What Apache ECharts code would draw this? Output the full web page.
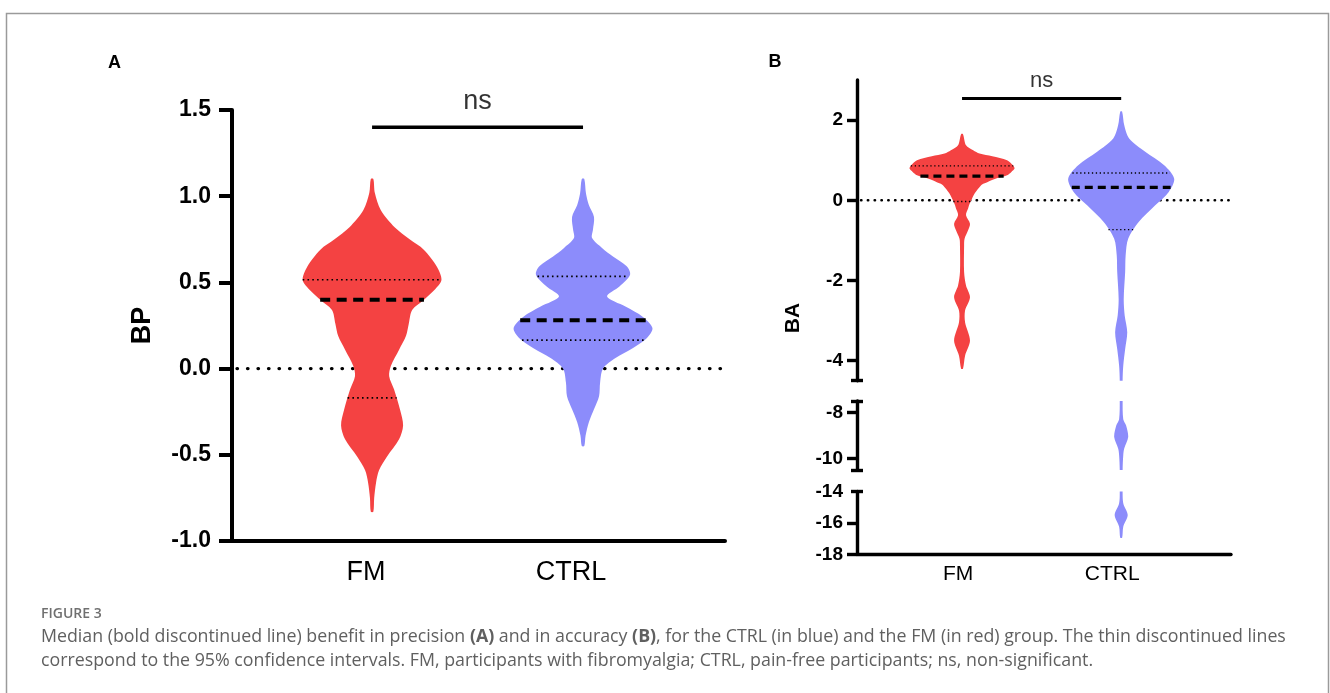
<!DOCTYPE html>
<html><head><meta charset="utf-8">
<script src="https://cdn.jsdelivr.net/npm/echarts@6/dist/echarts.min.js"></script>
<style>html,body{margin:0;padding:0;background:#fff}#c{width:1330px;height:693px}</style>
</head><body><div id="c"></div>
<script>
// ---------------- DATA ----------------
const groups = ['FM', 'CTRL'];
const groupColors = ['#F44242', '#8C8CFB'];

// Panel A: BP (precision benefit). Profiles: [value, half-width in category units]
const bpTickLabels = [-1.0, -0.5, 0.0, 0.5, 1.0, 1.5];
const bpProfileFM = [
  [1.10, 0.006], [1.02, 0.013], [0.92, 0.041], [0.82, 0.107], [0.75, 0.178],
  [0.69, 0.245], [0.59, 0.308], [0.515, 0.329], [0.46, 0.299], [0.40, 0.246],
  [0.34, 0.190], [0.26, 0.174], [0.19, 0.161], [0.11, 0.128], [0.015, 0.089],
  [-0.044, 0.081], [-0.12, 0.104], [-0.24, 0.133], [-0.33, 0.147], [-0.41, 0.128],
  [-0.51, 0.071], [-0.59, 0.033], [-0.66, 0.019], [-0.75, 0.010], [-0.83, 0.006]
];
const bpProfileCTRL = [
  [1.10, 0.006], [1.016, 0.014], [0.948, 0.028], [0.88, 0.052], [0.805, 0.047],
  [0.757, 0.043], [0.70, 0.090], [0.65, 0.142], [0.593, 0.207], [0.545, 0.223],
  [0.478, 0.174], [0.418, 0.114], [0.36, 0.201], [0.30, 0.284], [0.235, 0.329],
  [0.177, 0.303], [0.119, 0.237], [0.061, 0.154], [0.0, 0.095], [-0.08, 0.081],
  [-0.16, 0.076], [-0.236, 0.052], [-0.31, 0.028], [-0.39, 0.012], [-0.449, 0.006]
];
const bpMedian = [0.40, 0.28];
const bpLowerLine = [-0.17, 0.165];
const bpUpperLine = [0.515, 0.535];
const bpSigY = 1.40;

// Panel B: BA (accuracy benefit), broken axis in three segments
const baSegments = [[-4.5, 3], [-10.5, -7.5], [-18, -14]];
const baTickLabels = [[-4, -2, 0, 2], [-10, -8], [-18, -16, -14]];
const baTickMarks = [[-4, -2, 0, 2], [-10, -8], [-18, -16]];
const baBreakCaps = [[-4.5], [-10.5, -7.5], [-14]];
const baProfileFM = [
  [1.65, 0.006], [1.375, 0.025], [1.25, 0.07], [1.167, 0.11], [1.10, 0.19],
  [1.0, 0.283], [0.875, 0.32], [0.79, 0.33], [0.708, 0.31], [0.625, 0.283],
  [0.54, 0.21], [0.417, 0.138], [0.375, 0.12], [0.167, 0.079], [0.042, 0.063],
  [-0.125, 0.044], [-0.208, 0.038], [-0.375, 0.025], [-0.583, 0.05], [-0.75, 0.038],
  [-0.96, 0.016], [-1.125, 0.013], [-1.79, 0.013], [-2.125, 0.025], [-2.417, 0.05],
  [-2.75, 0.019], [-3.04, 0.019], [-3.5, 0.05], [-3.875, 0.019], [-4.2, 0.006]
];
const baProfileCTRL = [
  [2.21, 0.006], [1.875, 0.019], [1.54, 0.05], [1.21, 0.151], [0.875, 0.27],
  [0.54, 0.333], [0.208, 0.299], [-0.125, 0.214], [-0.54, 0.11], [-0.958, 0.044],
  [-1.375, 0.028], [-1.79, 0.025], [-2.46, 0.016], [-2.875, 0.022], [-3.29, 0.038],
  [-3.71, 0.025], [-4.125, 0.013], [-4.5, 0.009], [-7.5, 0.009], [-8.29, 0.013],
  [-8.57, 0.031], [-9.07, 0.044], [-9.57, 0.019], [-9.86, 0.013], [-10.5, 0.009],
  [-13.9, 0.009], [-14.75, 0.013], [-15.5, 0.041], [-16.24, 0.013], [-16.94, 0.006]
];
const baMedian = [0.60, 0.32];
const baLowerLine = [-0.03, -0.73];
const baUpperLine = [0.86, 0.68];
const baSigY = 2.54;
const sigText = 'ns';

// ---------------- LAYOUT / HELPERS ----------------
const FONT = "'Liberation Sans', Arial, sans-serif";
const CAPFONT = "'Open Sans', 'Noto Sans', sans-serif";
const AX = { min: 0.336, max: 2.673 };
const BX = { min: 0.34, max: 2.69 };

function interpHW(profile, v) {
  for (let i = 0; i < profile.length - 1; i++) {
    const a = profile[i], b = profile[i + 1];
    if (v <= a[0] && v >= b[0]) {
      const t = (a[0] - v) / (a[0] - b[0]);
      return a[1] + t * (b[1] - a[1]);
    }
  }
  return 0;
}

function violin(profile, gi, xi, yi, stats, cfg) {
  return {
    type: 'custom', xAxisIndex: xi, yAxisIndex: yi, clip: true, z: 3, silent: true,
    data: [[gi + 1]],
    renderItem: function (params, api) {
      const cx = api.value(0);
      const pts = profile.map(p => api.coord([cx + p[1], p[0]]))
        .concat(profile.slice().reverse().map(p => api.coord([cx - p[1], p[0]])));
      const children = [{ type: 'polygon', shape: { points: pts, smooth: 0.3 }, style: { fill: groupColors[gi] } }];
      const hline = (v, style) => {
        const hw = interpHW(profile, v);
        const p1 = api.coord([cx - hw, v]), p2 = api.coord([cx + hw, v]);
        return { type: 'line', shape: { x1: p1[0], y1: p1[1], x2: p2[0], y2: p2[1] }, style: style };
      };
      const qStyle = { stroke: '#000', lineWidth: cfg.qWidth, lineDash: cfg.qDash, fill: null };
      children.push(hline(stats.upper, qStyle));
      children.push(hline(stats.lower, qStyle));
      children.push(hline(stats.median, { stroke: '#000', lineWidth: cfg.mWidth, lineDash: cfg.mDash, fill: null }));
      return { type: 'group', children: children };
    }
  };
}

const grids = [
  { left: 232, top: 110, width: 493, height: 431 },
  { left: 857, top: 80, width: 374, height: 300.7 },
  { left: 857, top: 401, width: 374, height: 69 },
  { left: 857, top: 491.5, width: 374, height: 62.8 }
];

const xAxes = [{
  gridIndex: 0, type: 'value', min: AX.min, max: AX.max,
  axisLine: { show: true, onZero: false, lineStyle: { color: '#000', width: 4 } },
  axisTick: { show: false }, splitLine: { show: false },
  axisLabel: {
    customValues: [1, 2], margin: 18, color: '#000',
    formatter: v => v === 1 ? '{a|' + groups[0] + '}' : '{b|' + groups[1] + '}',
    rich: {
      a: { fontSize: 27, fontFamily: FONT, color: '#000', padding: [0, 12, 0, 0] },
      b: { fontSize: 27, fontFamily: FONT, color: '#000', padding: [0, 24, 0, 0] }
    }
  }
}];
const yAxes = [{
  gridIndex: 0, type: 'value', position: 'left', min: -1, max: 1.5, interval: 0.5,
  axisLine: { show: true, onZero: false, lineStyle: { color: '#000', width: 4 } },
  axisTick: { show: true, length: 13, customValues: bpTickLabels, lineStyle: { color: '#000', width: 4 } },
  axisLabel: { customValues: bpTickLabels, margin: 21, color: '#000', fontSize: 23, fontWeight: 'bold', fontFamily: FONT, formatter: v => v.toFixed(1) },
  splitLine: { show: false },
  name: 'BP', nameLocation: 'middle', nameGap: 76,
  nameTextStyle: { fontSize: 27, fontWeight: 'bold', color: '#000', fontFamily: FONT }
}];

baSegments.forEach((seg, s) => {
  xAxes.push({
    gridIndex: s + 1, type: 'value', min: BX.min, max: BX.max,
    axisLine: { show: s === 2, onZero: false, lineStyle: { color: '#000', width: 3.4 } },
    axisTick: { show: false }, splitLine: { show: false },
    axisLabel: s === 2 ? {
      customValues: [1, 2], margin: 9, color: '#000',
      formatter: v => v === 1 ? '{a|' + groups[0] + '}' : '{b|' + groups[1] + '}',
      rich: {
        a: { fontSize: 21, fontFamily: FONT, color: '#000', padding: [0, 8, 0, 0] },
        b: { fontSize: 21, fontFamily: FONT, color: '#000', padding: [0, 18, 0, 0] }
      }
    } : { show: false }
  });
  yAxes.push({
    gridIndex: s + 1, type: 'value', position: 'left', min: seg[0], max: seg[1],
    axisLine: { show: true, onZero: false, lineStyle: { color: '#000', width: 3.4 } },
    axisTick: { show: true, length: 10, customValues: baTickMarks[s], lineStyle: { color: '#000', width: 3.4 } },
    axisLabel: { customValues: baTickLabels[s], margin: 14, color: '#000', fontSize: 19, fontWeight: 'bold', fontFamily: FONT },
    splitLine: { show: false }
  });
  yAxes.push({
    gridIndex: s + 1, type: 'value', position: 'left', min: seg[0], max: seg[1], offset: -6,
    axisLine: { show: false },
    axisTick: { show: true, length: 12, customValues: baBreakCaps[s], lineStyle: { color: '#000', width: 3.4 } },
    axisLabel: { show: false }, splitLine: { show: false }
  });
});

const cfgA = { qWidth: 1.6, qDash: [1.6, 3.2], mWidth: 4, mDash: [10, 6.5] };
const cfgB = { qWidth: 1.3, qDash: [1.3, 2.6], mWidth: 3.2, mDash: [8, 5] };

const series = [];
// zero lines
series.push({ type: 'line', xAxisIndex: 0, yAxisIndex: 0, data: [[AX.min, 0], [AX.max, 0]], symbol: 'none', silent: true, z: 2,
  lineStyle: { color: '#000', width: 3.3, type: [0.5, 10], cap: 'round', dashOffset: -5 } });
series.push({ type: 'line', xAxisIndex: 1, yAxisIndex: 1, data: [[BX.min, 0], [BX.max, 0]], symbol: 'none', silent: true, z: 2,
  lineStyle: { color: '#000', width: 2.4, type: [0.5, 6.3], cap: 'round', dashOffset: -4 } });

// violins panel A
[bpProfileFM, bpProfileCTRL].forEach((prof, gi) => {
  series.push(violin(prof, gi, 0, 0, { median: bpMedian[gi], lower: bpLowerLine[gi], upper: bpUpperLine[gi] }, cfgA));
});
// violins panel B (drawn in each axis segment, clipped)
baSegments.forEach((seg, s) => {
  [baProfileFM, baProfileCTRL].forEach((prof, gi) => {
    series.push(violin(prof, gi, s + 1, 1 + 2 * s, { median: baMedian[gi], lower: baLowerLine[gi], upper: baUpperLine[gi] }, cfgB));
  });
});

// significance bars
series.push({ type: 'line', xAxisIndex: 0, yAxisIndex: 0, data: [[1, bpSigY], [2, bpSigY]], symbol: 'none', silent: true, z: 4,
  lineStyle: { color: '#000', width: 3.6 } });
series.push({ type: 'scatter', xAxisIndex: 0, yAxisIndex: 0, data: [[1.5, bpSigY]], symbolSize: 1, silent: true, z: 4,
  itemStyle: { color: 'transparent' },
  label: { show: true, position: 'top', distance: 12, formatter: sigText, fontSize: 27, color: '#000', fontFamily: FONT } });
series.push({ type: 'line', xAxisIndex: 1, yAxisIndex: 1, data: [[1, baSigY], [2, baSigY]], symbol: 'none', silent: true, z: 4,
  lineStyle: { color: '#000', width: 3 } });
series.push({ type: 'scatter', xAxisIndex: 1, yAxisIndex: 1, data: [[1.5, baSigY]], symbolSize: 1, silent: true, z: 4,
  itemStyle: { color: 'transparent' },
  label: { show: true, position: 'top', distance: 6, formatter: sigText, fontSize: 22, color: '#000', fontFamily: FONT } });

const graphic = [
  { type: 'polyline', silent: true, shape: { points: [[6.5, 700], [6.5, 13.5], [1328.5, 13.5], [1328.5, 700]] },
    style: { stroke: '#9a9a9a', lineWidth: 1.5, fill: null } },
  { type: 'text', x: 114.5, y: 63, silent: true,
    style: { text: 'A', fontSize: 18, fontWeight: 'bold', fontFamily: FONT, fill: '#000', align: 'center', verticalAlign: 'middle', textAlign: 'center', textVerticalAlign: 'middle' } },
  { type: 'text', x: 775, y: 62, silent: true,
    style: { text: 'B', fontSize: 18, fontWeight: 'bold', fontFamily: FONT, fill: '#000', align: 'center', verticalAlign: 'middle', textAlign: 'center', textVerticalAlign: 'middle' } },
  { type: 'text', x: 793, y: 318, rotation: Math.PI / 2, silent: true,
    style: { text: 'BA', fontSize: 21, fontWeight: 'bold', fontFamily: FONT, fill: '#000', align: 'center', verticalAlign: 'middle', textAlign: 'center', textVerticalAlign: 'middle' } },
  { type: 'text', x: 41, y: 614, silent: true,
    style: { text: 'FIGURE 3', fontSize: 14, fontWeight: 600, fontFamily: CAPFONT, fill: '#707070', align: 'left', verticalAlign: 'middle', textAlign: 'left', textVerticalAlign: 'middle' } },
  { type: 'text', x: 41, y: 637, silent: true,
    style: {
      text: 'Median (bold discontinued line) benefit in precision {b|(A)} and in accuracy {b|(B)}, for the CTRL (in blue) and the FM (in red) group. The thin discontinued lines',
      fontSize: 17.8, fontFamily: CAPFONT, fill: '#606060', align: 'left', verticalAlign: 'middle', textAlign: 'left', textVerticalAlign: 'middle',
      rich: { b: { fontSize: 17.8, fontFamily: CAPFONT, fontWeight: 'bold', fill: '#606060' } }
    } },
  { type: 'text', x: 41, y: 661, silent: true,
    style: {
      text: 'correspond to the 95% confidence intervals. FM, participants with fibromyalgia; CTRL, pain-free participants; ns, non-significant.',
      fontSize: 17.8, fontFamily: CAPFONT, fill: '#606060', align: 'left', verticalAlign: 'middle', textAlign: 'left', textVerticalAlign: 'middle'
    } }
];

const chart = echarts.init(document.getElementById('c'));
chart.setOption({
  animation: false,
  backgroundColor: '#fff',
  grid: grids,
  xAxis: xAxes,
  yAxis: yAxes,
  series: series,
  graphic: graphic
});
</script></body></html>
